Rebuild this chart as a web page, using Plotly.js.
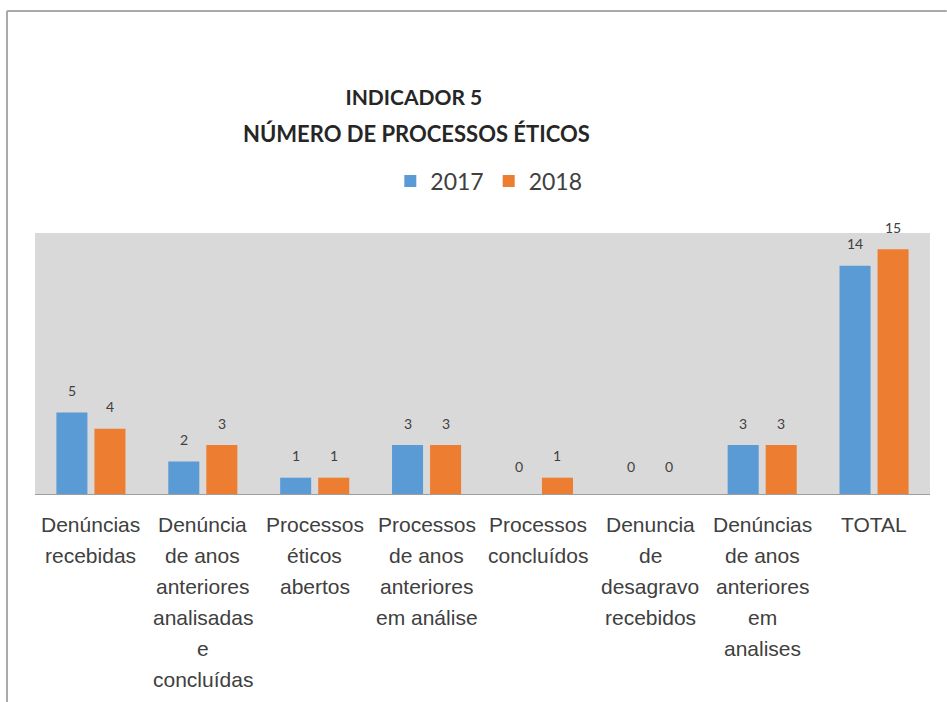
<!DOCTYPE html>
<html>
<head>
<meta charset="utf-8">
<script src="https://cdn.plot.ly/plotly-3.0.1.min.js"></script>
<style>
  html, body { margin: 0; padding: 0; background: #ffffff; overflow: hidden; width: 947px; height: 702px; }
  #chart { width: 947px; height: 702px; position: absolute; left: 0; top: 0; }
</style>
</head>
<body>
<div id="chart"></div>
<script>
// ---- data ----
const categories = [
  "Denúncias recebidas",
  "Denúncia de anos anteriores analisadas e concluídas",
  "Processos éticos abertos",
  "Processos de anos anteriores em análise",
  "Processos concluídos",
  "Denuncia de desagravo recebidos",
  "Denúncias de anos anteriores em analises",
  "TOTAL"
];
const tickLabels = [
  ["Denúncias", "recebidas"],
  ["Denúncia", "de anos", "anteriores", "analisadas", "e", "concluídas"],
  ["Processos", "éticos", "abertos"],
  ["Processos", "de anos", "anteriores", "em análise"],
  ["Processos", "concluídos"],
  ["Denuncia", "de", "desagravo", "recebidos"],
  ["Denúncias", "de anos", "anteriores", "em", "analises"],
  ["TOTAL"]
];
const values2017 = [5, 2, 1, 3, 0, 0, 3, 14];
const values2018 = [4, 3, 1, 3, 1, 0, 3, 15];
const seriesNames = ["2017", "2018"];

// ---- styling ----
const blue = "#5B9BD5";
const orange = "#ED7D31";
const labelColor = "#404040";

const traces = [
  { type: "bar", name: seriesNames[0], x: categories, y: values2017,
    marker: { color: blue }, hoverinfo: "y" },
  { type: "bar", name: seriesNames[1], x: categories, y: values2018,
    marker: { color: orange }, hoverinfo: "y" }
];

const annotations = [];
// value labels
[values2017, values2018].forEach((vals, s) => {
  vals.forEach((v, i) => {
    annotations.push({
      x: categories[i], y: v, xref: "x", yref: "y",
      text: String(v), showarrow: false,
      xshift: s === 0 ? -19 : 19, yshift: v === 0 ? 28 : 22,
      yanchor: "middle",
      font: { family: "Lato, 'Liberation Sans', sans-serif", size: 14, color: labelColor }
    });
  });
});
// category labels (one annotation per line for Excel-like line spacing)
tickLabels.forEach((lines, i) => {
  lines.forEach((ln, k) => {
    annotations.push({
      x: categories[i], y: 0, xref: "x", yref: "y",
      text: ln, showarrow: false,
      yanchor: "middle", yshift: -(30 + k * 31),
      font: { family: "'Liberation Sans', Arial, sans-serif", size: 21, color: labelColor }
    });
  });
});
// second title line
annotations.push({
  xref: "paper", yref: "paper", x: 0.4268, y: 1.383,
  xanchor: "center", yanchor: "middle", showarrow: false,
  text: "<b>NÚMERO DE PROCESSOS ÉTICOS</b>",
  font: { family: "Lato, 'Open Sans', sans-serif", size: 22, color: "#262626" }
});

// outer chart frame (top and left edges of the cropped chart box)
const frameStyle = { color: "#a9a9a9", width: 2 };
const shapes = [
  { type: "line", xref: "paper", yref: "paper", x0: -0.0313, x1: 1.0187, y0: 1.8506, y1: 1.8506, line: frameStyle },
  { type: "line", xref: "paper", yref: "paper", x0: -0.0313, x1: -0.0313, y0: 1.8506, y1: -0.797, line: frameStyle }
];

const layout = {
  width: 947, height: 702,
  paper_bgcolor: "#ffffff",
  plot_bgcolor: "#D9D9D9",
  margin: { l: 35, r: 17, t: 233, b: 208 },
  title: {
    text: "<b>INDICADOR 5</b>",
    xref: "container", yref: "container",
    x: 0.437, y: 1 - 98 / 702, xanchor: "center", yanchor: "middle",
    font: { family: "Lato, 'Open Sans', sans-serif", size: 21, color: "#262626" }
  },
  barmode: "group",
  bargap: 0.32,
  bargroupgap: 0.184,
  showlegend: true,
  legend: {
    orientation: "h", x: 0.397, xanchor: "left", y: 1.199, yanchor: "middle",
    font: { family: "Lato, 'Open Sans', sans-serif", size: 23, color: "#404040" },
    bgcolor: "rgba(0,0,0,0)"
  },
  xaxis: {
    showticklabels: false, ticks: "", showgrid: false, zeroline: false,
    showline: true, linecolor: "#9e9e9e", linewidth: 1,
    fixedrange: true
  },
  yaxis: {
    range: [0, 16], showticklabels: false, showgrid: false, zeroline: false,
    showline: false, ticks: "", fixedrange: true
  },
  shapes: shapes,
  annotations: annotations
};

Plotly.newPlot("chart", traces, layout, { displayModeBar: false, staticPlot: true });
</script>
</body>
</html>
